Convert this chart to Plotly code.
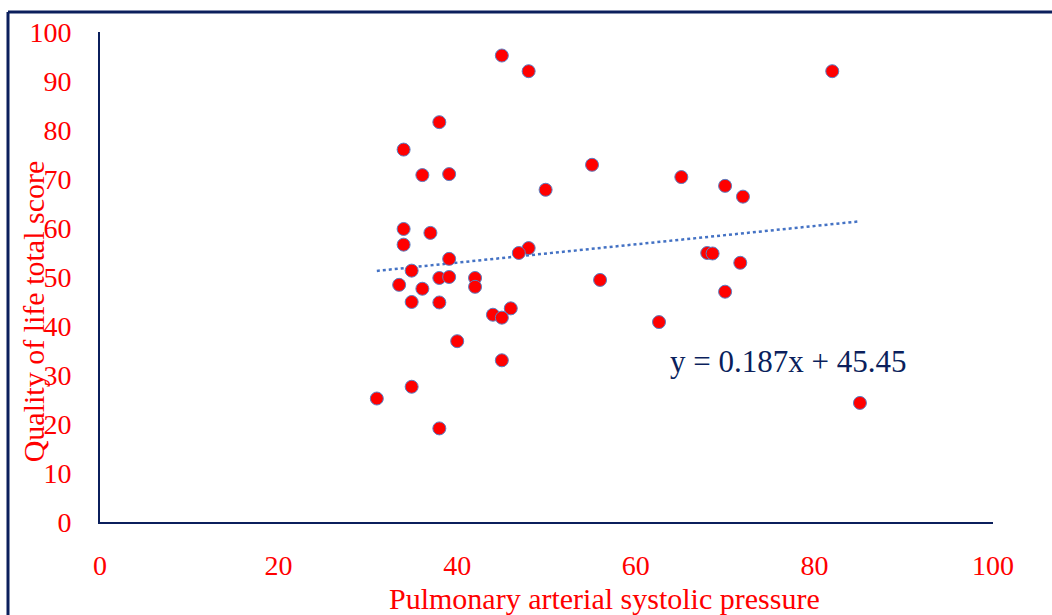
import plotly.graph_objects as go

# Data
pasp = [45.0, 48.0, 82.0, 38.0, 34.0, 55.1, 36.1, 39.1, 65.1, 70.0, 49.9, 72.0,
        34.0, 37.0, 34.0, 48.0, 46.9, 68.0, 68.6, 39.1, 71.7, 34.9, 38.0, 39.1,
        42.0, 56.0, 42.0, 33.5, 36.1, 70.0, 34.9, 38.0, 46.0, 44.0, 45.0, 62.6,
        40.0, 45.0, 34.9, 31.0, 85.1, 38.0]
qol = [95.2, 92.0, 92.0, 81.6, 76.0, 72.9, 70.8, 71.0, 70.4, 68.6, 67.8, 66.4,
       59.8, 59.0, 56.6, 55.9, 54.9, 54.9, 54.8, 53.7, 52.9, 51.3, 49.8, 50.0,
       49.8, 49.4, 48.0, 48.4, 47.6, 47.0, 44.9, 44.8, 43.6, 42.3, 41.7, 40.8,
       36.9, 33.0, 27.6, 25.2, 24.3, 19.1]

slope = 0.187
intercept = 45.45
equation_label = "y = 0.187x + 45.45"

x_ticks = [0, 20, 40, 60, 80, 100]
y_ticks = [0, 10, 20, 30, 40, 50, 60, 70, 80, 90, 100]
x_title = "Pulmonary arterial systolic pressure"
y_title = "Quality of life total score"

NAVY = "#0b1f5c"
RED = "#ff0000"
SERIF = "Liberation Serif, Times New Roman, serif"

x_min, x_max = min(pasp), max(pasp)
trend_x = [x_min, x_max]
trend_y = [slope * v + intercept for v in trend_x]

fig = go.Figure()
fig.add_trace(go.Scatter(
    x=trend_x, y=trend_y, mode="lines",
    line=dict(color="#4472c4", width=2.5, dash="dot"),
    hoverinfo="skip", showlegend=False))
fig.add_trace(go.Scatter(
    x=pasp, y=qol, mode="markers",
    marker=dict(size=13, color=RED, line=dict(color="#5a7fc4", width=1)),
    showlegend=False))

fig.update_layout(
    width=1052, height=615,
    margin=dict(l=100, r=59, t=32, b=93, autoexpand=False),
    paper_bgcolor="white", plot_bgcolor="white",
    font=dict(family=SERIF, color=RED),
    xaxis=dict(range=[0, 100], tickvals=x_ticks, ticktext=[str(v) for v in x_ticks],
               showgrid=False, zeroline=False, showline=True, linecolor=NAVY,
               linewidth=2, ticks="", ticklabelstandoff=17,
               tickfont=dict(family=SERIF, size=28, color=RED)),
    yaxis=dict(range=[0, 100], tickvals=y_ticks, ticktext=[str(v) for v in y_ticks],
               showgrid=False, zeroline=False, showline=True, linecolor=NAVY,
               linewidth=2, ticks="", ticklabelstandoff=21,
               tickfont=dict(family=SERIF, size=28, color=RED)),
    annotations=[
        dict(text=x_title, xref="paper", yref="paper", x=0.565, y=(522 - 598) / 490,
             showarrow=False, xanchor="center", yanchor="middle",
             font=dict(family=SERIF, size=30, color=RED)),
        dict(text=y_title, xref="paper", yref="paper", x=(33 - 100) / 893, y=0.43,
             showarrow=False, xanchor="center", yanchor="middle", textangle=-90,
             font=dict(family=SERIF, size=30, color=RED)),
        dict(text=equation_label, xref="paper", yref="paper",
             x=(788 - 100) / 893, y=(522 - 361) / 490,
             showarrow=False, xanchor="center", yanchor="middle",
             font=dict(family=SERIF, size=31, color=NAVY)),
    ],
    shapes=[
        dict(type="line", xref="paper", yref="paper",
             x0=(8 - 100) / 893, x1=(8 - 100) / 893,
             y0=(522 - 700) / 490, y1=(522 - 12) / 490,
             line=dict(color=NAVY, width=3)),
        dict(type="line", xref="paper", yref="paper",
             x0=(8 - 100) / 893, x1=(1100 - 100) / 893,
             y0=(522 - 12) / 490, y1=(522 - 12) / 490,
             line=dict(color=NAVY, width=3)),
    ],
)

fig.write_html("out.html")
